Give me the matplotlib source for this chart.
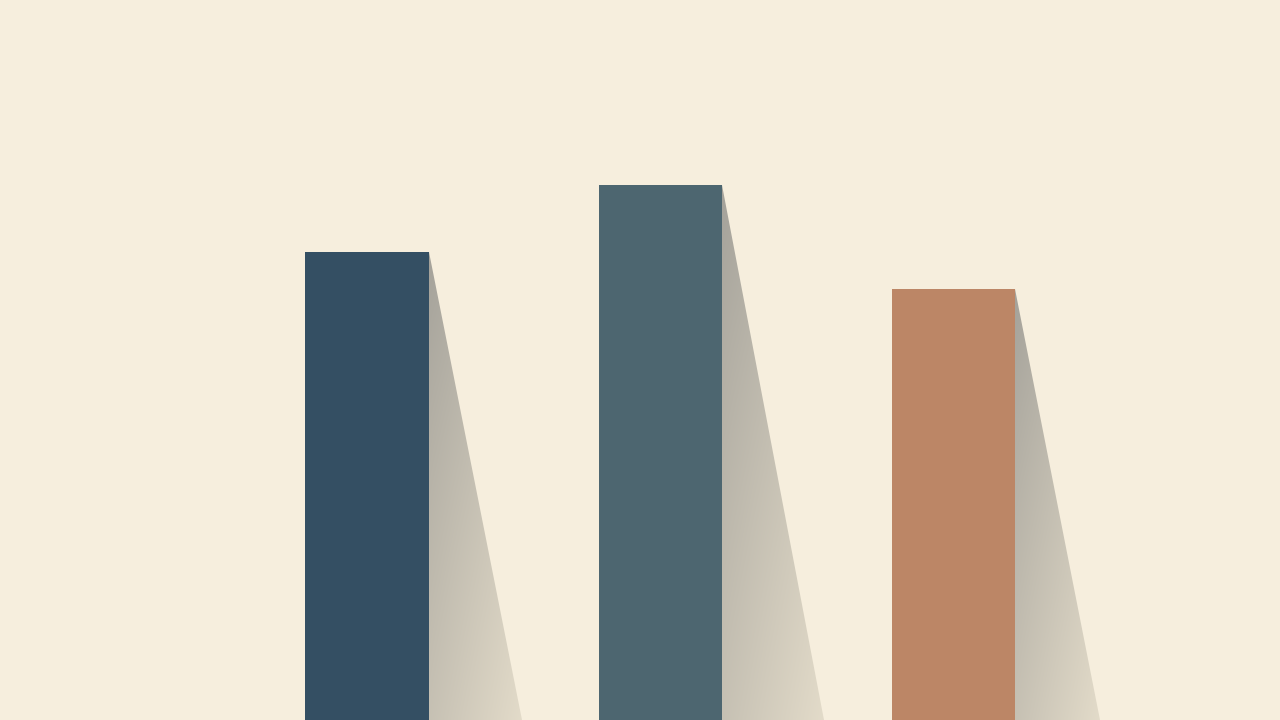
import matplotlib.pyplot as plt
from matplotlib.patches import Polygon
import numpy as np

# bar data (heights on a 0-100 scale)
categories = ["A", "B", "C"]
values = [65.0, 74.3, 59.9]
colors = ["#344f63", "#4d6670", "#bc8666"]
shadow_len = [0.32, 0.35, 0.29]   # how far each shadow reaches at the floor

bg = "#f6eedd"
width = 0.42

fig = plt.figure(figsize=(12.8, 7.2), dpi=100, facecolor=bg)
ax = fig.add_axes([0, 0, 1, 1])
ax.set_facecolor(bg)
ax.axis("off")

x = np.arange(len(categories))

# shadows: a wedge from the top right corner of each bar down to the floor
for i, v in enumerate(values):
    x0 = x[i] + width / 2
    x1 = x0 + shadow_len[i]
    poly = Polygon([(x0, v), (x0, 0), (x1, 0)], closed=True,
                   facecolor="none", edgecolor="none")
    ax.add_patch(poly)
    # gradient: darker next to the bar and near the top, lighter outwards/down
    gx = np.linspace(0, 1, 200)
    gy = np.linspace(0, 1, 200)
    GX, GY = np.meshgrid(gx, gy)
    dark = np.array([0.64, 0.63, 0.60])
    light = np.array([0.89, 0.86, 0.79])
    t = np.clip(0.45 * GX + 0.55 * (1 - GY) ** 0.8, 0, 1)
    img = dark[None, None, :] * (1 - t[..., None]) + light[None, None, :] * t[..., None]
    im = ax.imshow(img, extent=(x0, x1, 0, v), origin="lower",
                   aspect="auto", zorder=1, interpolation="bilinear")
    im.set_clip_path(poly)

ax.bar(x, values, width=width, color=colors, zorder=2, edgecolor="none")

ax.set_xlim(-1.252, 3.115)
ax.set_ylim(0, 100)

fig.savefig("out.png", dpi=100, facecolor=bg)
